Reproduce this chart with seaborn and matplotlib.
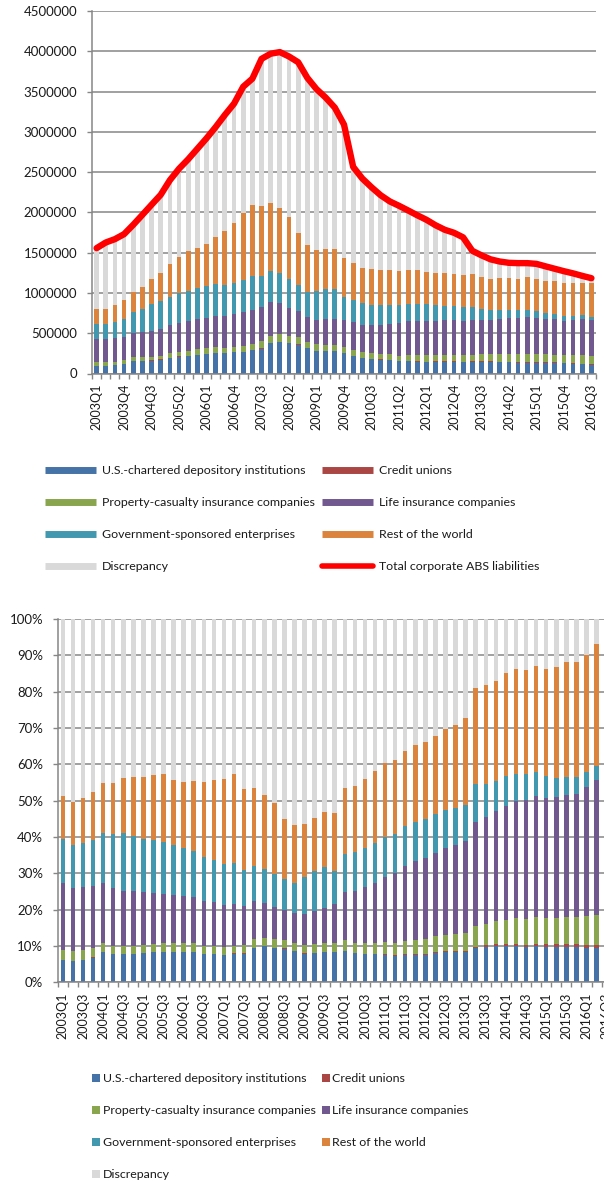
import numpy as np
import pandas as pd
import seaborn as sns
import matplotlib.pyplot as plt
from matplotlib.lines import Line2D
from matplotlib.patches import Patch
from matplotlib.ticker import FuncFormatter

years = range(2003, 2017)
quarters = [f"{y}Q{q}" for y in years for q in (1, 2, 3, 4)][:55]   # 2003Q1 .. 2016Q3

# total corporate ABS liabilities (red line, upper chart)
total_liabilities = [
    1556000, 1626000, 1668000, 1730000, 1846000, 1970000, 2095000, 2219000, 2400000, 2542000,
    2660000, 2790000, 2920000, 3060000, 3210000, 3350000, 3560000, 3660000, 3906000, 3970000,
    3990000, 3935000, 3864000, 3670000, 3530000, 3425000, 3300000, 3090000, 2565000, 2420000,
    2312000, 2213000, 2136000, 2082000, 2024000, 1964000, 1908000, 1840000, 1784000, 1747000,
    1690000, 1523000, 1467000, 1417000, 1390000, 1374000, 1370000, 1370000, 1361000, 1330000,
    1300000, 1270000, 1243000, 1212000, 1183000]

# holders' shares of the total, in percent
depository = [
    6.2, 5.9, 6.2, 6.8, 8.3, 7.7, 7.7, 7.8, 8.1, 8.3,
    8.3, 8.3, 8.3, 8.3, 7.8, 7.8, 7.5, 7.9, 7.9, 9.5,
    9.9, 9.5, 9.3, 8.5, 7.9, 8.1, 8.3, 8.3, 8.5, 8.0,
    7.7, 7.7, 7.6, 7.2, 7.5, 7.5, 7.5, 8.0, 8.3, 8.3,
    8.3, 9.4, 9.6, 10.1, 9.9, 10.1, 9.8, 9.9, 9.8, 9.8,
    9.8, 9.8, 9.5, 9.4, 9.3]
credit_unions = [
    0.05, 0.05, 0.05, 0.05, 0.05, 0.05, 0.05, 0.05, 0.05, 0.05,
    0.05, 0.05, 0.05, 0.05, 0.05, 0.05, 0.05, 0.05, 0.05, 0.05,
    0.05, 0.05, 0.05, 0.05, 0.05, 0.05, 0.05, 0.1, 0.1, 0.1,
    0.2, 0.2, 0.2, 0.3, 0.3, 0.3, 0.3, 0.3, 0.3, 0.3,
    0.4, 0.4, 0.7, 0.5, 0.6, 0.5, 0.6, 0.7, 0.8, 0.7,
    0.8, 0.7, 0.8, 0.8, 0.8]
property_casualty = [
    2.55, 2.55, 2.55, 2.55, 2.55, 2.35, 2.15, 2.15, 2.25, 2.25,
    2.35, 2.35, 2.35, 2.35, 2.05, 2.05, 2.15, 2.05, 2.25, 2.25,
    2.25, 2.25, 2.25, 2.25, 2.25, 2.35, 2.35, 2.3, 3.0, 2.8,
    2.9, 3.0, 3.3, 3.2, 3.5, 3.9, 4.1, 4.4, 4.3, 4.6,
    4.8, 5.6, 5.8, 6.2, 6.6, 7.0, 7.0, 7.3, 7.2, 7.3,
    7.4, 7.5, 7.9, 8.3, 8.5]
life_insurance = [
    18.5, 17.5, 17.4, 17.1, 16.4, 15.9, 15.3, 15.0, 14.5, 14.0,
    13.6, 13.4, 13.1, 12.8, 12.5, 12.2, 11.6, 11.6, 10.8, 10.7,
    9.6, 8.9, 8.4, 8.3, 8.7, 9.2, 9.8, 10.9, 13.2, 14.2,
    15.4, 16.4, 17.9, 19.3, 20.7, 21.7, 22.4, 23.0, 24.1, 24.7,
    25.4, 28.6, 29.5, 30.4, 31.5, 32.4, 32.9, 33.4, 32.9, 33.1,
    33.6, 33.8, 35.6, 37.2, 37.9]
gse = [
    12.2, 11.9, 12.2, 12.6, 13.9, 14.8, 16.0, 15.3, 14.6, 14.5,
    14.3, 13.8, 13.2, 12.7, 12.0, 11.6, 11.4, 11.3, 10.0, 9.4,
    9.5, 9.1, 8.5, 8.3, 10.1, 10.9, 11.1, 9.1, 10.6, 10.9,
    10.8, 11.0, 11.0, 10.7, 10.9, 10.7, 10.7, 10.5, 10.3, 10.1,
    10.0, 10.5, 9.0, 8.2, 8.2, 7.4, 6.9, 6.5, 6.0, 5.4,
    5.0, 4.7, 4.1, 3.8, 3.3]
rest_of_world = [
    11.8, 11.7, 12.4, 13.3, 13.6, 14.0, 15.0, 16.2, 16.9, 17.9,
    18.7, 17.9, 18.2, 19.2, 20.7, 22.0, 23.2, 24.4, 22.2, 21.5,
    20.3, 19.5, 16.5, 15.9, 14.5, 14.7, 15.3, 15.8, 18.0, 18.0,
    18.9, 19.9, 20.3, 20.6, 20.8, 21.1, 21.2, 21.6, 22.3, 22.8,
    23.8, 26.5, 27.2, 27.5, 28.3, 28.9, 28.7, 29.3, 29.6, 30.5,
    31.6, 31.8, 32.3, 33.7, 35.5]

series_names = ["U.S.-chartered depository institutions", "Credit unions",
                "Property-casualty insurance companies", "Life insurance companies",
                "Government-sponsored enterprises", "Rest of the world", "Discrepancy"]
series_colors = ["#4572A7", "#AA4643", "#89A54E", "#71588F", "#4198AF", "#DB843D", "#D9D9D9"]
total_name = "Total corporate ABS liabilities"

shares = pd.DataFrame(dict(zip(series_names[:-1], [depository, credit_unions, property_casualty,
                                                   life_insurance, gse, rest_of_world])), index=quarters)
shares["Discrepancy"] = 100 - shares.sum(axis=1)
cum = shares.cumsum(axis=1) / 100
total = np.array(total_liabilities, dtype=float)
pos = np.arange(len(quarters))

sns.set_theme(style="white")
plt.rcParams["font.family"] = ["Lato", "DejaVu Sans"]
plt.rcParams["font.size"] = 9.5
grid_grey = "#868686"
text_col = "#1a1a1a"

W, H = 604, 1182
fig = plt.figure(figsize=(W / 100, H / 100), dpi=100)
ax1 = fig.add_axes([92 / W, 1 - 373.5 / H, 504 / W, 362.5 / H])
# lower chart runs past the right edge of the picture, as in the original
ax2 = fig.add_axes([57.8 / W, 1 - 982.3 / H, 55 * 10.07 / W, 363.3 / H])

# stacked bars drawn as overlapping cumulative bars, tallest first
for name, col in reversed(list(zip(series_names, series_colors))):
    sns.barplot(x=pos, y=cum[name].to_numpy() * total, color=col, saturation=1, width=0.52,
                linewidth=0, errorbar=None, orient="x", ax=ax1)
    sns.barplot(x=pos, y=cum[name].to_numpy(), color=col, saturation=1, width=0.45,
                linewidth=0, errorbar=None, orient="x", ax=ax2)

sns.lineplot(x=pos, y=total, color="#FF0000", linewidth=4.6, ax=ax1, zorder=5,
             solid_joinstyle="round", solid_capstyle="round")


def style_axis(ax, step, ymax, yticks, fmt):
    ax.set_xlim(-0.5, len(quarters) - 0.5)
    ax.set_ylim(0, ymax)
    ax.set_xticks(pos[::step], labels=quarters[::step], rotation=90)
    ax.set_xticks(np.arange(-0.5, len(quarters), 1), minor=True)
    ax.set_yticks(yticks)
    ax.yaxis.set_major_formatter(FuncFormatter(fmt))
    ax.set_xlabel("")
    ax.set_ylabel("")
    ax.set_axisbelow(True)
    ax.yaxis.grid(True, color=grid_grey, linewidth=1.1)
    ax.xaxis.grid(False)
    sns.despine(ax=ax)
    for side in ("left", "bottom"):
        ax.spines[side].set_color(grid_grey)
        ax.spines[side].set_linewidth(1.1)
    ax.tick_params(axis="x", which="major", length=0, pad=7.5, labelsize=9, labelcolor=text_col)
    ax.tick_params(axis="x", which="minor", length=3.6, width=1, color=grid_grey, bottom=True)
    ax.tick_params(axis="y", length=3.6, width=1, color=grid_grey, pad=7, left=True,
                   labelsize=9.5, labelcolor=text_col)


style_axis(ax1, 3, 4500000, np.arange(0, 4500001, 500000), lambda v, p: f"{v:.0f}")
style_axis(ax2, 2, 1.0, np.linspace(0, 1, 11), lambda v, p: f"{v * 100:.0f}%")

# legends, two columns filled row by row like the original
order = [0, 2, 4, 6, 1, 3, 5]
leg_size = 8.9
top_handles = [Line2D([0], [0], color=series_colors[i], lw=5, solid_capstyle="butt") for i in order]
top_handles.append(Line2D([0], [0], color="#FF0000", lw=4, solid_capstyle="round"))
top_labels = [series_names[i] for i in order] + [total_name]
fig.legend(top_handles, top_labels, ncol=2, loc="upper left", bbox_to_anchor=(45 / W, 1 - 465.5 / H),
           frameon=False, handlelength=4.1, handletextpad=0.5, columnspacing=0.6,
           labelspacing=1.69, borderpad=0, borderaxespad=0, fontsize=leg_size, labelcolor=text_col)

bot_handles = [Patch(facecolor=series_colors[i], edgecolor="none") for i in order]
bot_labels = [series_names[i] for i in order]
fig.legend(bot_handles, bot_labels, ncol=2, loc="upper left", bbox_to_anchor=(92.4 / W, 1 - 1073.5 / H),
           frameon=False, handlelength=0.65, handleheight=0.6, handletextpad=0.19,
           columnspacing=0.49, labelspacing=1.69, borderpad=0, borderaxespad=0, fontsize=leg_size,
           labelcolor=text_col)

fig.savefig("out.png", dpi=100)
